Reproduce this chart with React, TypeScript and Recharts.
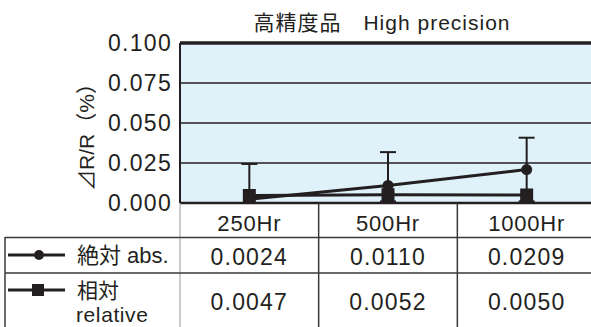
import React from 'react';
import { LineChart, Line, XAxis, YAxis, CartesianGrid, ErrorBar } from 'recharts';

const categories = ['250Hr', '500Hr', '1000Hr'];
const absValues = [0.0024, 0.011, 0.0209];
const relValues = [0.0047, 0.0052, 0.005];
const errLow = [0.0, 0.001, 0.001];
const errHigh = [0.0244, 0.0318, 0.0408];
const yTicks = [0, 0.025, 0.05, 0.075, 0.1];
const absLabel = '絶対 abs.';
const relLabel1 = '相対';
const relLabel2 = 'relative';
const titleText = '高精度品　High precision';
const yLabelText = '⊿R/R（%）';

const data = categories.map((c, i) => ({
  cat: c,
  abs: absValues[i],
  rel: relValues[i],
  absErr: [absValues[i] - errLow[i], errHigh[i] - absValues[i]],
}));

const INK = '#231f20';
const FONT = '"Liberation Sans", Arial, "Noto Sans CJK JP", sans-serif';
const CHART_W = 596;
const CHART_H = 327;
const Y_W = 180;

const GridLine = (props: any) => {
  const { x1, y1, x2, y2, x, y, height, index } = props;
  const top = typeof y === 'number' ? y : 43;
  const isTop = Math.abs(y1 - top) < 1;
  return (
    <g key={`gl-${index}`}>
      <line x1={x1} y1={y1} x2={x2} y2={y2} stroke={INK} strokeWidth={isTop ? 3.5 : 1.3} />
      {isTop && typeof x === 'number' && typeof height === 'number' ? (
        <line x1={x} y1={top} x2={x} y2={top + height} stroke={INK} strokeWidth={2} />
      ) : null}
    </g>
  );
};

const TableTick = (props: any) => {
  const { x, y, payload, index } = props;
  const half = payload && payload.offset ? payload.offset : (CHART_W - Y_W) / categories.length / 2;
  const i = payload && typeof payload.index === 'number' ? payload.index : index;
  return (
    <g>
      <line x1={x - half} y1={y} x2={x - half} y2={y + 124} stroke={i === 0 ? '#9a9a9a' : '#3a3a3a'} strokeWidth={i === 0 ? 1 : 1.5} />
      <text x={x} y={y + 28} textAnchor="middle" fontSize={22} letterSpacing={0.8} fill={INK} stroke="none" fontFamily={FONT}>
        {payload.value}
      </text>
      <text x={x} y={y + 62} textAnchor="middle" fontSize={23} letterSpacing={1.2} fill={INK} stroke="none" fontFamily={FONT}>
        {absValues[i].toFixed(4)}
      </text>
      <text x={x} y={y + 107} textAnchor="middle" fontSize={23} letterSpacing={1.2} fill={INK} stroke="none" fontFamily={FONT}>
        {relValues[i].toFixed(4)}
      </text>
    </g>
  );
};

const SquareDot = (props: any) => {
  const { cx, cy, index } = props;
  if (cx == null || cy == null) return <g key={`sq-${index}`} />;
  return <rect key={`sq-${index}`} x={cx - 6.5} y={cy - 6.5} width={13} height={13} fill={INK} />;
};

export default function App() {
  return (
    <div style={{ position: 'fixed', left: 0, top: 0, width: 591, height: 327, overflow: 'hidden', background: '#fff' }}>
      <div style={{ position: 'absolute', left: 0, top: 0 }}>
        <LineChart width={CHART_W} height={CHART_H} data={data} margin={{ top: 43, right: 0, bottom: 0, left: 0 }}>
          <CartesianGrid
            vertical={false}
            fill="#dff1f9"
            fillOpacity={1}
            stroke={INK}
            horizontal={GridLine}
            horizontalValues={yTicks}
          />
          <XAxis
            dataKey="cat"
            scale="band"
            height={124}
            tickSize={0}
            tickMargin={0}
            tickLine={false}
            stroke={INK}
            axisLine={{ stroke: INK, strokeWidth: 2.5 }}
            tick={<TableTick />}
            interval={0}
          />
          <YAxis
            width={Y_W}
            domain={[0, 0.1]}
            ticks={yTicks}
            allowDataOverflow
            tickFormatter={(v: number) => v.toFixed(3)}
            tickLine={false}
            tickSize={0}
            tickMargin={8}
            stroke={INK}
            axisLine={false}
            tick={{ fontSize: 23, fill: INK, stroke: 'none', fontFamily: FONT, letterSpacing: 1.3 }}
          />
          <Line
            dataKey="abs"
            stroke={INK}
            strokeWidth={3}
            isAnimationActive={false}
            dot={{ r: 5.5, fill: INK, stroke: INK, strokeWidth: 0 }}
            activeDot={false}
          >
            <ErrorBar dataKey="absErr" direction="y" width={8} stroke={INK} strokeWidth={2} />
          </Line>
          <Line
            dataKey="rel"
            stroke={INK}
            strokeWidth={3}
            isAnimationActive={false}
            dot={SquareDot}
            activeDot={false}
          />
        </LineChart>
      </div>
      <svg
        width={591}
        height={327}
        style={{ position: 'absolute', left: 0, top: 0, pointerEvents: 'none' }}
        fontFamily={FONT}
      >
        <text x={382} y={30} textAnchor="middle" fontSize={21} letterSpacing={1} fill={INK}>
          {titleText}
        </text>
        <text
          x={0}
          y={0}
          transform="translate(94,132) rotate(-90)"
          textAnchor="middle"
          fontSize={21}
          fill={INK}
        >
          {yLabelText}
        </text>
        <line x1={5} y1={237.5} x2={591} y2={237.5} stroke="#3a3a3a" strokeWidth={1.5} />
        <line x1={5} y1={273} x2={591} y2={273} stroke="#3a3a3a" strokeWidth={1.5} />
        <line x1={5} y1={237} x2={5} y2={327} stroke="#3a3a3a" strokeWidth={1.5} />
        <line x1={8} y1={255} x2={65} y2={255} stroke={INK} strokeWidth={3} />
        <circle cx={39} cy={255} r={5} fill={INK} />
        <text x={77} y={263} fontSize={22} fill={INK}>{absLabel}</text>
        <line x1={8} y1={290} x2={65} y2={290} stroke={INK} strokeWidth={3} />
        <rect x={32} y={284} width={12} height={12} fill={INK} />
        <text x={77} y={298} fontSize={21} fill={INK}>{relLabel1}</text>
        <text x={76} y={322} fontSize={21} letterSpacing={0.6} fill={INK}>{relLabel2}</text>
      </svg>
    </div>
  );
}
